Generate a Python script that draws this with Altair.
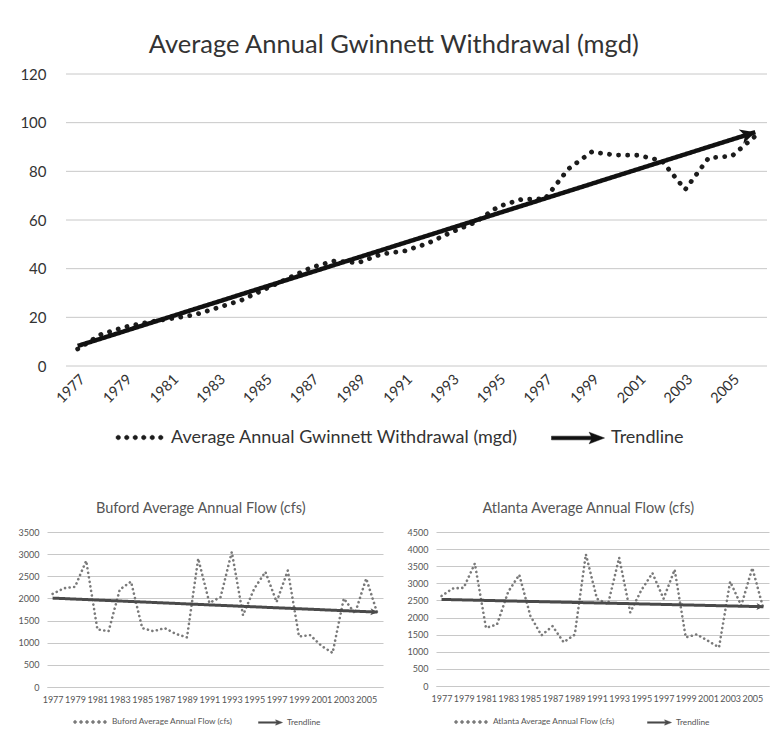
import altair as alt
import pandas as pd

# ---------------- data ----------------
years = list(range(1977, 2007))
tick_years = list(range(1977, 2006, 2))

gwinnett = [7, 13, 16, 18, 19.5, 21, 24, 27, 31.5, 36, 40.5, 43.2, 42.4, 46, 47.3,
            50.5, 55, 59, 65.5, 68.5, 68.7, 81, 88, 86.7, 86.6, 84.3, 72.5, 85.5, 86.3, 94.5]
buford = [2100, 2230, 2260, 2850, 1300, 1260, 2200, 2380, 1330, 1260, 1330, 1200, 1120, 2900, 1900,
          2030, 3050, 1620, 2220, 2600, 1920, 2630, 1140, 1170, 930, 770, 2000, 1660, 2450, 1660]
atlanta = [2630, 2850, 2870, 3580, 1700, 1800, 2750, 3250, 2050, 1480, 1750, 1280, 1500, 3850, 2550,
           2390, 3750, 2150, 2800, 3300, 2550, 3400, 1420, 1510, 1320, 1130, 3050, 2350, 3450, 2250]

FONT = "Lato"


def dots_path(n=6, r=0.09):
    parts = []
    for i in range(n):
        cx = -0.85 + i * (1.7 / (n - 1))
        parts.append(f"M {cx - r:.3f} 0 a {r} {r} 0 1 0 {2 * r} 0 a {r} {r} 0 1 0 {-2 * r} 0 Z")
    return " ".join(parts)


ARROW_LEG = "M -1 -0.07 L 0.5 -0.07 L 0.42 -0.22 L 1 0 L 0.42 0.22 L 0.5 0.07 L -1 0.07 Z"
HEAD = "M 0 0 L -1 -0.5 L -0.72 0 L -1 0.5 Z"


def panel(values, name, title, ymax, ystep, w, h, s):
    df = pd.DataFrame({"year": years, "value": values})
    yticks = list(range(0, ymax + 1, ystep))
    use_rules = s["xr0"] > 0
    if use_rules:
        xs = alt.Scale(domain=[1976.5, 2006.5], nice=False, zero=False, range=[s["xr0"], w])
    else:
        xs = alt.Scale(domain=[1976.5, 2006.5], nice=False, zero=False)
    ys = alt.Scale(domain=[0, ymax], nice=False)
    xaxis = alt.Axis(values=tick_years, format="d", title=None, grid=False, ticks=False,
                     domain=not use_rules, domainColor="#c8c8c8", labelAngle=s["xangle"],
                     labelFont=FONT, labelFontSize=s["xfs"], labelColor=s["txt"],
                     labelPadding=s["xpad"], labelOverlap=False, labelFlush=False,
                     tickCount=len(tick_years))
    yaxis = alt.Axis(values=yticks, format="d", title=None, grid=not use_rules,
                     gridColor="#c8c8c8", gridWidth=1,
                     ticks=False, domain=False, labelOverlap=False,
                     tickCount=len(yticks),
                     labelFont=FONT, labelFontSize=s["yfs"], labelColor=s["txt"],
                     labelPadding=s["ypad"])

    X = alt.X("year:Q", scale=xs, axis=xaxis)
    Y = alt.Y("value:Q", scale=ys, axis=yaxis)
    base = alt.Chart(df)

    layers = []
    if use_rules:
        grid_df = pd.DataFrame({"tick": yticks})
        layers.append(alt.Chart(grid_df).mark_rule(color="#c8c8c8", strokeWidth=1).encode(
            x=alt.X(datum=1976.5, type="quantitative", scale=xs, axis=xaxis),
            x2=alt.X2(datum=2006.5),
            y=alt.Y("tick:Q", scale=ys, axis=yaxis),
        ))

    series = base.transform_calculate(series=f"'{name}'").mark_line(
        strokeDash=[0.1, s["gap"]], strokeCap="round", strokeWidth=s["dw"]
    ).encode(
        x=X, y=Y,
        color=alt.Color("series:N", scale=alt.Scale(domain=[name], range=[s["scol"]]),
                        legend=alt.Legend(title=None, orient="none",
                                          legendX=s["lx1"], legendY=s["ly1"],
                                          symbolType=dots_path(), symbolSize=s["lss"],
                                          symbolFillColor=s["scol"], symbolStrokeColor=s["scol"],
                                          symbolStrokeWidth=0.5,
                                          labelFont=FONT, labelFontSize=s["lfs"],
                                          labelColor=s["txt"], labelOffset=s["loff"],
                                          labelLimit=600)),
    )
    layers.append(series)

    trend = base.transform_regression("year", "value").transform_calculate(
        kind="'Trendline'"
    ).mark_line(strokeWidth=s["tw"], color=s["tcol"]).encode(
        x=X, y=Y,
        strokeDash=alt.StrokeDash("kind:N", scale=alt.Scale(domain=["Trendline"], range=[[1, 0]]),
                                  legend=alt.Legend(title=None, orient="none",
                                                    legendX=s["lx2"], legendY=s["ly2"],
                                                    symbolType=ARROW_LEG, symbolSize=s["las"],
                                                    symbolFillColor=s["tcol"],
                                                    symbolStrokeColor=s["tcol"],
                                                    symbolStrokeWidth=0.5,
                                                    labelFont=FONT, labelFontSize=s["lfs"],
                                                    labelColor=s["txt"], labelOffset=s["loff"])),
    )
    layers.append(trend)

    head = base.transform_regression("year", "value").transform_filter(
        "datum.year > 2005"
    ).mark_point(shape=HEAD, filled=True, size=s["hs"], angle=s["ha"],
                 color=s["tcol"], opacity=1).encode(x=X, y=Y)
    layers.append(head)

    return alt.layer(*layers).properties(
        width=w, height=h,
        title=alt.TitleParams(title, font=FONT, fontSize=s["tfs"], fontWeight="normal",
                              color=s["txt"], offset=s["toff"], anchor="middle",
                              frame="bounds"),
    )


top_style = dict(xr0=19, xangle=315, xfs=14.5, yfs=15, txt="#333333", xpad=6, ypad=1,
                 gap=9, dw=4.8, scol="#1c1c1c", tw=4.5, tcol="#111111",
                 lx1=67, ly1=338, lx2=504, ly2=337, lss=2500, las=2809, lfs=18, loff=6,
                 hs=900, ha=342.5, tfs=25.5, toff=9)
small_style = dict(xr0=0, xangle=0, xfs=9, yfs=9, txt="#555555", xpad=8, ypad=8,
                   gap=4.5, dw=2.6, scol="#7a7a7a", tw=3, tcol="#4a4a4a",
                   lx1=25, ly1=172, lx2=211, ly2=178, lss=1232, las=576, lfs=8.3, loff=4,
                   hs=196, ha=3, tfs=14.5, toff=12)
atl_style = dict(small_style, lx1=17, lx2=211, ha=1.5)

top = panel(gwinnett, "Average Annual Gwinnett Withdrawal (mgd)",
            "Average Annual Gwinnett Withdrawal (mgd)", 120, 20, 720, 292, top_style)
buf = panel(buford, "Buford  Average Annual Flow (cfs)",
            "Buford  Average Annual Flow (cfs)", 3500, 500, 336, 155, small_style)
atl = panel(atlanta, "Atlanta  Average Annual Flow (cfs)",
            "Atlanta  Average Annual Flow (cfs)", 4500, 500, 333, 154, atl_style)

bottom = alt.hconcat(buf, atl, spacing=23).resolve_scale(
    color="independent", strokeDash="independent"
).resolve_legend(color="independent", strokeDash="independent")

chart = alt.concat(
    top,
    bottom,
    columns=1,
    spacing=53,
).resolve_scale(
    color="independent", strokeDash="independent"
).resolve_legend(
    color="independent", strokeDash="independent"
).properties(
    padding={"left": 10, "top": 24, "right": 0, "bottom": 0},
    background="white",
).configure_view(stroke=None)

chart.save("out.html", embed_options={"renderer": "svg", "actions": False})
